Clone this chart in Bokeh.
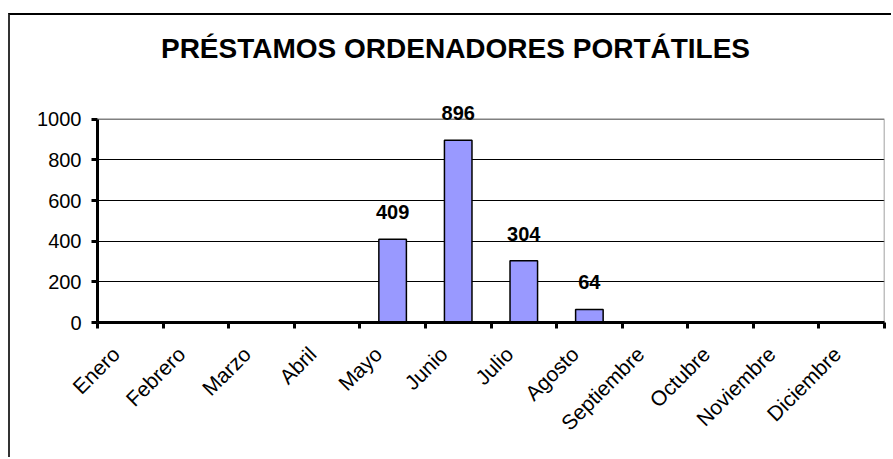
import math
from bokeh.plotting import figure
from bokeh.models import FixedTicker, ColumnDataSource, LabelSet, Label
from bokeh.core.properties import value
from bokeh.embed import file_html
from bokeh.resources import INLINE

months = ["Enero", "Febrero", "Marzo", "Abril", "Mayo", "Junio", "Julio",
          "Agosto", "Septiembre", "Octubre", "Noviembre", "Diciembre"]
loans = [0, 0, 0, 0, 409, 896, 304, 64, 0, 0, 0, 0]
y_ticks = [0, 200, 400, 600, 800, 1000]
title_text = "PRÉSTAMOS ORDENADORES PORTÁTILES"

FONT = "Liberation Sans"
Y_MAX = y_ticks[-1]
N = len(months)

xc = [i + 0.5 for i in range(N)]
src = ColumnDataSource(dict(x=xc, top=loans))
lab_x = [x for x, v in zip(xc, loans) if v]
lab_y = [v for v in loans if v]
lab_src = ColumnDataSource(dict(x=lab_x, y=lab_y, t=[str(v) for v in lab_y]))

# frame extends above the value axis to hold the title (1.5 x axis height)
p = figure(width=883, height=444, output_backend="svg", toolbar_location=None,
           x_range=(0, N), y_range=(0, Y_MAX * 1.5),
           min_border_left=87, min_border_top=2, min_border_right=9,
           min_border_bottom=137)
p.styles = {"border-top": "2px solid #000", "border-left": "2px solid #333",
            "margin-top": "13px", "margin-left": "8px"}
p.outline_line_color = None

# plot-area box
p.quad(left=[0], right=[N], bottom=[0], top=[Y_MAX], fill_color=None,
       line_color="#808080", line_width=1.5)

p.vbar(x="x", top="top", width=0.42, source=src, fill_color="#9999FF",
       line_color="black", line_width=1.5)
labels = LabelSet(x="x", y="y", text="t", source=lab_src, text_align="center",
                  text_baseline="alphabetic", y_offset=20,
                  text_font=value(FONT), text_font_size="20px",
                  text_font_style="bold", text_color="black")
p.add_layout(labels)

title = Label(x=358, y=274, x_units="screen", y_units="screen", text=title_text,
              text_align="center", text_baseline="alphabetic",
              text_font=FONT, text_font_size="28px", text_font_style="bold",
              text_color="black")
p.add_layout(title)

p.xgrid.grid_line_color = None
p.ygrid.ticker = FixedTicker(ticks=y_ticks[1:-1])
p.ygrid.grid_line_color = "black"
p.ygrid.grid_line_width = 1

ya = p.yaxis[0]
ya.bounds = (0, Y_MAX)
ya.ticker = FixedTicker(ticks=y_ticks)
ya.axis_line_width = 3
ya.major_tick_line_width = 3
ya.major_tick_out = 6
ya.major_tick_in = 0
ya.minor_tick_line_color = None
ya.major_label_text_font = FONT
ya.major_label_text_font_size = "20px"
ya.major_label_text_color = "black"
ya.major_label_standoff = 10

label_pos = [x - 0.22 for x in xc]
xa = p.xaxis[0]
xa.ticker = FixedTicker(ticks=label_pos, minor_ticks=list(range(N + 1)))
xa.major_label_overrides = {x: m for x, m in zip(label_pos, months)}
xa.major_label_orientation = math.pi / 4
xa.axis_line_width = 3
xa.major_tick_line_color = None
xa.major_tick_out = 0
xa.minor_tick_line_width = 3
xa.minor_tick_out = 6
xa.minor_tick_in = 0
xa.major_label_text_font = FONT
xa.major_label_text_font_size = "21px"
xa.major_label_text_color = "black"
xa.major_label_standoff = 22

open("out.html", "w").write(file_html(p, INLINE))
